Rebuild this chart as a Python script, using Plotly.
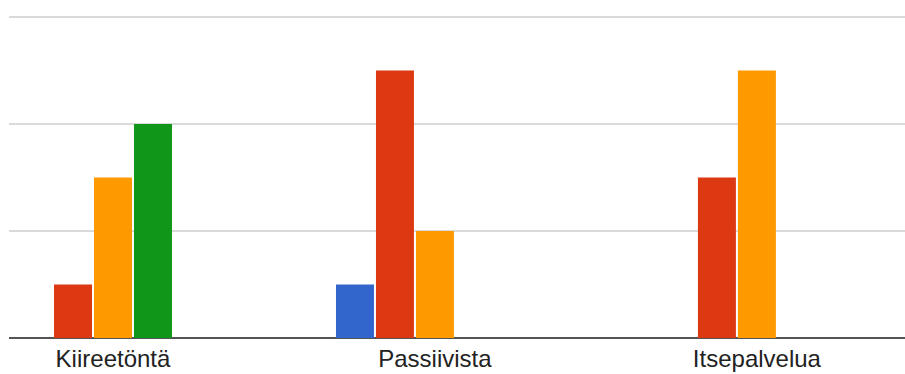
import plotly.graph_objects as go

categories = ["Kiireetöntä", "Passiivista", "Itsepalvelua"]
series_names = ["Sarja 1", "Sarja 2", "Sarja 3", "Sarja 4", "Sarja 5"]
values_blue = [0, 1, 0]
values_red = [1, 5, 3]
values_orange = [3, 2, 5]
values_green = [4, 0, 0]
values_purple = [0, 0, 0]
colors = ["#3366cc", "#dc3912", "#ff9900", "#109618", "#990099"]

all_values = [values_blue, values_red, values_orange, values_green, values_purple]

fig = go.Figure()
for name, vals, col in zip(series_names, all_values, colors):
    fig.add_trace(go.Bar(x=categories, y=vals, name=name, marker=dict(color=col, line=dict(width=0))))

fig.update_layout(
    width=905, height=374,
    margin=dict(l=9, r=0, t=15, b=36),
    paper_bgcolor="white", plot_bgcolor="white",
    barmode="group", bargap=0.379, bargroupgap=0.05,
    showlegend=False,
    font=dict(family="Arial, 'Liberation Sans', sans-serif", color="#222222"),
    xaxis=dict(range=[-0.323, 2.46], showgrid=False, zeroline=False, showline=False,
               automargin=False,
               ticks="", ticklabelstandoff=4, tickfont=dict(size=24, color="#222222")),
    yaxis=dict(range=[0, 6.04], dtick=2, showticklabels=False, showgrid=True,
               automargin=False,
               gridcolor="#d9d9d9", gridwidth=1.5, zeroline=True,
               zerolinecolor="#555555", zerolinewidth=2, fixedrange=True),
)

fig.write_html("out.html")
